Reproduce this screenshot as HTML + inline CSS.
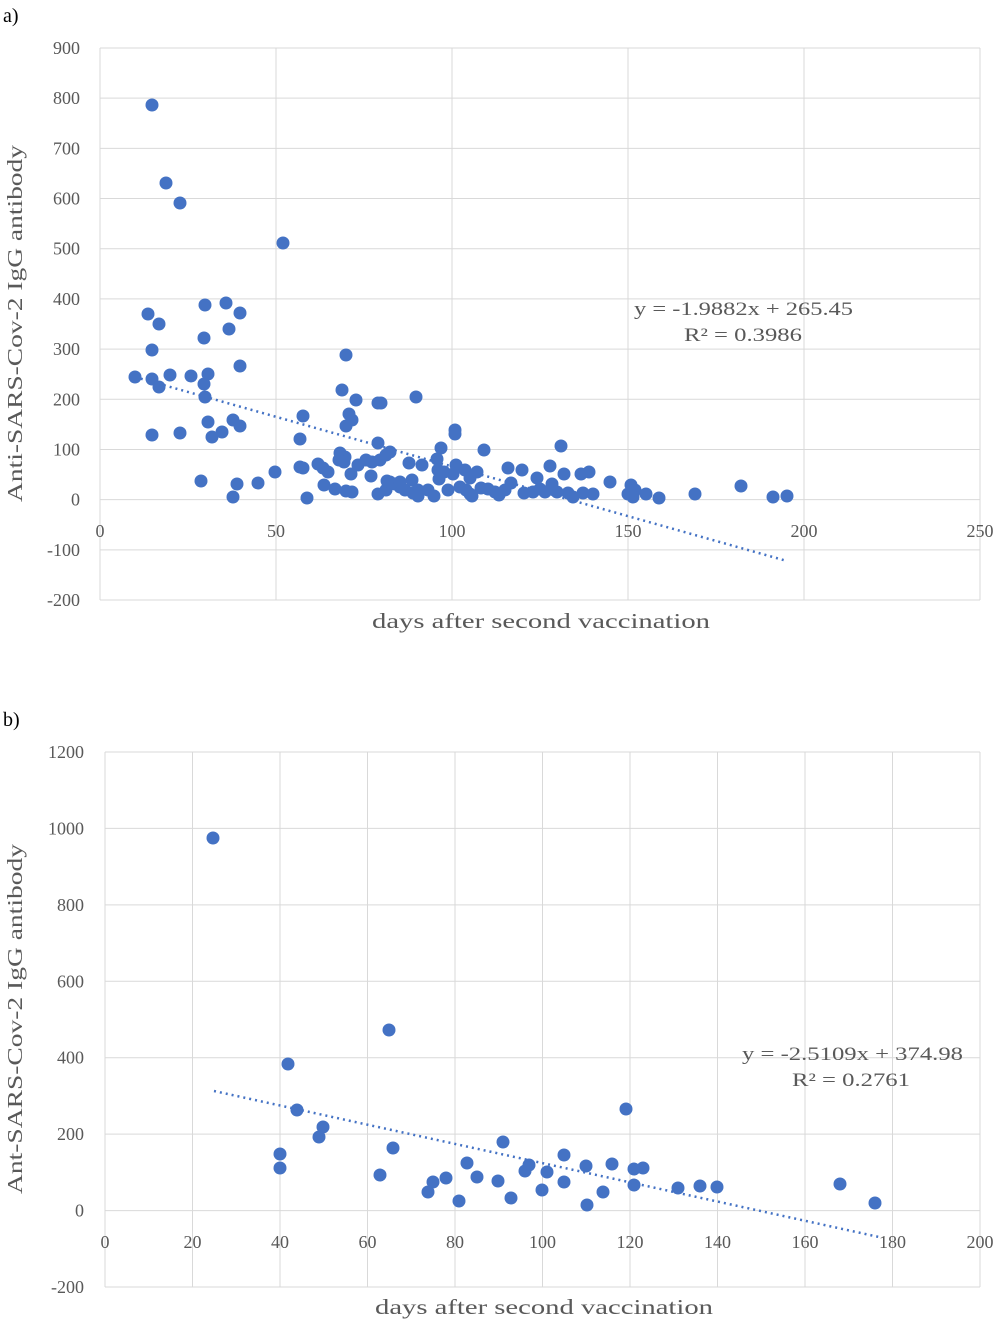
<!DOCTYPE html>
<html><head><meta charset="utf-8"><style>
html,body{margin:0;padding:0;background:#fff;}
svg text{font-family:"Liberation Serif","Noto Serif CJK SC",serif;fill:#595959;}
</style></head><body>
<svg width="1000" height="1323" viewBox="0 0 1000 1323" xmlns="http://www.w3.org/2000/svg">
<rect width="1000" height="1323" fill="#fff"/>
<text x="3" y="22" font-size="20" style="fill:#000">a)</text>
<g stroke="#d9d9d9" stroke-width="1" id="ga"></g>
<g id="gb" stroke="#d9d9d9" stroke-width="1"></g>
<text x="3" y="726" font-size="20" style="fill:#000">b)</text>
<g id="la" font-size="18" text-anchor="end"></g>
<g id="lb" font-size="18" text-anchor="end"></g>
<text x="372" y="628" font-size="21" textLength="338" lengthAdjust="spacingAndGlyphs">days after second vaccination</text>
<text x="375" y="1314" font-size="21" textLength="338" lengthAdjust="spacingAndGlyphs">days after second vaccination</text>
<text transform="translate(22,502) rotate(-90)" font-size="21" textLength="357" lengthAdjust="spacingAndGlyphs">Anti-SARS-Cov-2 IgG antibody</text>
<text transform="translate(22,1194) rotate(-90)" font-size="21" textLength="350" lengthAdjust="spacingAndGlyphs">Ant-SARS-Cov-2 IgG antibody</text>
<text x="634" y="315" font-size="19" textLength="219" lengthAdjust="spacingAndGlyphs">y = -1.9882x + 265.45</text>
<text x="684" y="341" font-size="19" textLength="118" lengthAdjust="spacingAndGlyphs">R² = 0.3986</text>
<text x="742" y="1060" font-size="19" textLength="221" lengthAdjust="spacingAndGlyphs">y = -2.5109x + 374.98</text>
<text x="792" y="1086" font-size="19" textLength="118" lengthAdjust="spacingAndGlyphs">R² = 0.2761</text>
<g id="pa" fill="#4472c4"></g>
<g id="pb" fill="#4472c4"></g>
<line x1="135" y1="377" x2="787" y2="561" stroke="#4472c4" stroke-width="2.5" stroke-dasharray="2,4"/>
<line x1="214" y1="1091" x2="879" y2="1237" stroke="#4472c4" stroke-width="2.5" stroke-dasharray="2,4"/>
</svg>
<script>
var NS="http://www.w3.org/2000/svg";
function el(p,t,a,txt){var e=document.createElementNS(NS,t);for(var k in a)e.setAttribute(k,a[k]);if(txt!==undefined)e.textContent=txt;document.getElementById(p).appendChild(e);}
for(var i=0;i<=5;i++){var x=100+i*176;el("ga","line",{x1:x,y1:48,x2:x,y2:600});el("la","text",{x:x,y:537,"text-anchor":"middle"},String(i*50));}
for(var i=0;i<=11;i++){var y=48+i*552/11;el("ga","line",{x1:100,y1:y,x2:980,y2:y});el("la","text",{x:80,y:y+6},String(900-i*100));}
for(var i=0;i<=10;i++){var x=105+i*87.5;el("gb","line",{x1:x,y1:752,x2:x,y2:1287});el("lb","text",{x:x,y:1248,"text-anchor":"middle"},String(i*20));}
for(var i=0;i<=7;i++){var y=752+i*535/7;el("gb","line",{x1:105,y1:y,x2:980,y2:y});el("lb","text",{x:84,y:y+6},String(1200-i*200));}
var A=[[152,105],[166,183],[180,203],[283,243],[148,314],[159,324],[205,305],[226,303],[240,313],[229,329],[204,338],[152,350],[240,366],[135,377],[152,379],[170,375],[191,376],[208,374],[159,387],[204,384],[205,397],[346,355],[342,390],[378,403],[381,403],[356,400],[416,397],[303,416],[349,414],[352,420],[346,426],[233,420],[240,426],[208,422],[212,437],[222,432],[180,433],[152,435],[455,430],[455,434],[441,448],[378,443],[484,450],[561,446],[300,439],[201,481],[237,484],[233,497],[258,483],[275,472],[307,498],[300,467],[303,468],[318,464],[323,468],[328,472],[324,485],[335,489],[340,453],[345,457],[339,460],[344,462],[351,474],[358,465],[366,460],[372,462],[371,476],[380,460],[386,455],[390,452],[346,491],[352,492],[378,494],[386,490],[390,482],[395,484],[400,487],[405,490],[409,463],[412,480],[418,490],[422,465],[437,459],[438,470],[444,472],[439,479],[434,496],[448,490],[453,474],[456,465],[460,487],[465,470],[470,478],[472,496],[477,472],[481,488],[488,489],[495,492],[499,495],[505,490],[508,468],[511,483],[522,470],[524,493],[533,492],[537,478],[540,489],[545,492],[550,466],[552,484],[557,492],[564,474],[568,493],[573,497],[581,474],[583,493],[589,472],[593,494],[610,482],[628,494],[631,485],[635,490],[633,497],[646,494],[659,498],[695,494],[741,486],[773,497],[787,496],[418,496],[413,493],[466,490],[470,494],[428,490],[400,482],[387,481]];
A.forEach(function(p){el("pa","circle",{cx:p[0],cy:p[1],r:6.5});});
var B=[[213,838],[389,1030],[288,1064],[297,1110],[280,1154],[280,1168],[323,1127],[319,1137],[393,1148],[380,1175],[428,1192],[433,1182],[446,1178],[459,1201],[467,1163],[477,1177],[498,1181],[503,1142],[511,1198],[525,1171],[529,1165],[542,1190],[547,1172],[564,1155],[564,1182],[586,1166],[587,1205],[603,1192],[612,1164],[626,1109],[634,1169],[634,1185],[643,1168],[678,1188],[700,1186],[717,1187],[840,1184],[875,1203]];
B.forEach(function(p){el("pb","circle",{cx:p[0],cy:p[1],r:6.5});});
</script>
</body></html>
